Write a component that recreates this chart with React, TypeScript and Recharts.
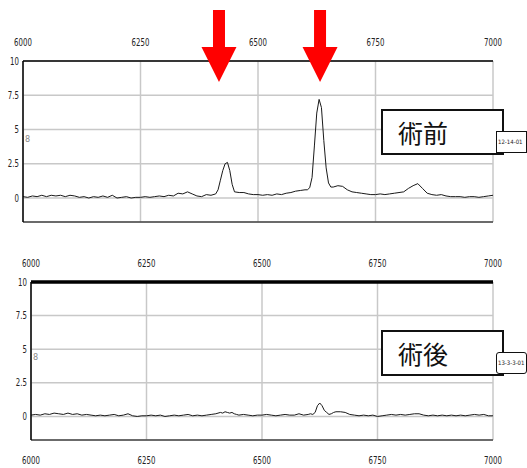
import { LineChart, Line, XAxis, YAxis, CartesianGrid, ReferenceDot } from "recharts";

// wavenumber positions (finer around the peaks)
const WAVE = [
  6000, 6010, 6020, 6030, 6040, 6050, 6060, 6070, 6080, 6090,
  6100, 6110, 6120, 6130, 6140, 6150, 6160, 6170, 6180, 6190,
  6200, 6210, 6220, 6230, 6240, 6250, 6260, 6270, 6280, 6290,
  6300, 6310, 6320, 6330, 6340, 6350, 6360, 6370, 6380, 6390,
  6400,
  6410, 6415, 6420, 6425, 6430, 6435, 6440, 6445, 6450,
  6460, 6470, 6480, 6490, 6500, 6510, 6520, 6530, 6540, 6550, 6560, 6570, 6580, 6590, 6600,
  6605, 6610, 6615, 6620, 6625, 6630, 6635, 6640, 6645, 6650, 6655, 6660,
  6670, 6680, 6690, 6700, 6710, 6720, 6730, 6740, 6750, 6760,
  6770, 6780, 6790, 6800, 6810, 6820, 6830, 6840, 6850, 6860,
  6870, 6880, 6890, 6900, 6910, 6920, 6930, 6940, 6950, 6960,
  6970, 6980, 6990, 7000,
];

// 術前
const PRE = [
  0.1, 0.05, 0.15, 0.1, 0.2, 0.1, 0.2, 0.15, 0.2, 0.1,
  0.2, 0.15, 0.05, 0.1, 0.0, 0.1, 0.05, 0.15, 0.05, 0.2,
  0.0, 0.05, 0.1, 0.0, 0.05, 0.05, 0.1, 0.05, 0.1, 0.15,
  0.1, 0.2, 0.15, 0.35, 0.3, 0.45, 0.3, 0.15, 0.1, 0.25,
  0.2,
  0.3, 0.6, 1.3, 2.0, 2.5, 2.6, 2.0, 1.0, 0.45,
  0.4, 0.4, 0.3, 0.25, 0.25, 0.2, 0.25, 0.2, 0.3, 0.25, 0.35, 0.4, 0.5, 0.55, 0.6,
  0.6, 0.75, 1.5, 3.8, 6.2, 7.2, 6.6, 4.2, 2.2, 1.1, 0.8, 0.8,
  0.9, 0.85, 0.6, 0.45, 0.4, 0.35, 0.3, 0.25, 0.25, 0.3,
  0.25, 0.3, 0.35, 0.4, 0.45, 0.7, 0.9, 1.05, 0.7, 0.35,
  0.25, 0.2, 0.25, 0.15, 0.1, 0.1, 0.1, 0.05, 0.1, 0.1,
  0.05, 0.1, 0.15, 0.2,
];

// 術後
const POST = [
  0.1, 0.15, 0.1, 0.2, 0.15, 0.25, 0.2, 0.15, 0.25, 0.15,
  0.2, 0.1, 0.15, 0.1, 0.05, 0.1, 0.05, 0.1, 0.15, 0.05,
  0.1, 0.2, 0.05, 0.0, 0.05, 0.05, 0.1, 0.05, 0.1, 0.0,
  0.05, 0.1, 0.05, 0.1, 0.15, 0.05, 0.1, 0.05, 0.1, 0.15,
  0.2,
  0.3, 0.25, 0.35, 0.3, 0.25, 0.3, 0.2, 0.15, 0.1,
  0.15, 0.1, 0.05, 0.1, 0.1, 0.15, 0.1, 0.05, 0.1, 0.15, 0.1, 0.1, 0.2, 0.1, 0.15,
  0.2, 0.15, 0.3, 0.8, 1.0, 0.8, 0.45, 0.3, 0.15, 0.2, 0.3, 0.35,
  0.35, 0.3, 0.15, 0.1, 0.05, 0.1, 0.05, 0.1, 0.0, 0.05,
  0.1, 0.15, 0.1, 0.15, 0.1, 0.15, 0.2, 0.2, 0.1, 0.05,
  0.1, 0.05, 0.1, 0.05, 0.1, 0.05, 0.1, 0.05, 0.1, 0.15,
  0.1, 0.15, 0.05, 0.05,
];

const X_TICKS = [6000, 6250, 6500, 6750, 7000];
const Y_TICKS = [0, 2.5, 5, 7.5, 10];
const Y_DOMAIN = [-1.75, 10];
const ARROW_AT = [6417, 6632];

const data = WAVE.map((w, i) => ({ w, pre: PRE[i], post: POST[i] }));

// narrow-looking tick labels
const mkTick = (dy: number) => (p: any) => (
  <g transform={`translate(${p.x},${p.y})`}>
    <text
      transform="scale(0.7,1)"
      textAnchor={p.textAnchor}
      dy={dy}
      fill="#222"
      fontSize={10}
      fontFamily="'DejaVu Sans', sans-serif"
    >
      {p.payload.value}
    </text>
  </g>
);

const Arrow = (p: any) => {
  const { cx, cy } = p;
  const pts = [
    [cx - 6, cy - 51], [cx + 6, cy - 51], [cx + 6, cy - 14], [cx + 17.5, cy - 14],
    [cx, cy + 21], [cx - 17.5, cy - 14], [cx - 6, cy - 14],
  ].map(q => q.join(",")).join(" ");
  return <polygon points={pts} fill="#ff0000" />;
};

const boxStyle: any = {
  position: "absolute",
  left: 381,
  width: 104,
  height: 42,
  border: "2px solid #111",
  background: "#fff",
  fontFamily: "'Noto Sans CJK JP', sans-serif",
  fontSize: 25,
  lineHeight: "42px",
  paddingLeft: 15,
  boxSizing: "content-box",
  color: "#111",
};

const tagStyle: any = {
  position: "absolute",
  left: 496,
  width: 28,
  height: 20,
  border: "1px solid #111",
  background: "#fff",
  fontFamily: "'DejaVu Sans Condensed', 'DejaVu Sans', sans-serif",
  fontSize: 6,
  lineHeight: "20px",
  paddingLeft: 1,
  color: "#222",
  whiteSpace: "nowrap",
  overflow: "hidden",
};

function Panel({ dataKey, top, height, margin, yWidth, topLine, bottomTicks, arrows }: any) {
  return (
    <div style={{ position: "absolute", left: 0, top }}>
      <LineChart width={527} height={height} data={data} margin={margin}>
        <CartesianGrid xAxisId="top" stroke="#c8c8c8" strokeWidth={1.5} />
        <XAxis
          xAxisId="top"
          orientation="top"
          dataKey="w"
          type="number"
          domain={[6000, 7000]}
          ticks={X_TICKS}
          height={30}
          tickLine={false}
          tickSize={0}
          tickMargin={15}
          tick={mkTick(0)}
          axisLine={{ stroke: "#000", strokeWidth: topLine }}
        />
        <XAxis
          xAxisId="bot"
          orientation="bottom"
          dataKey="w"
          type="number"
          domain={[6000, 7000]}
          ticks={X_TICKS}
          height={bottomTicks ? 28 : 1}
          tickLine={false}
          tickSize={0}
          tickMargin={17}
          tick={bottomTicks ? mkTick(7) : false}
          axisLine={{ stroke: "#000", strokeWidth: 1.2 }}
        />
        <YAxis
          domain={Y_DOMAIN}
          ticks={Y_TICKS}
          width={yWidth}
          tickLine={false}
          tickSize={0}
          tickMargin={4}
          tick={mkTick(3.5)}
          allowDataOverflow
          axisLine={{ stroke: "#000", strokeWidth: 1.5 }}
        />
        <Line
          xAxisId="top"
          dataKey={dataKey}
          type="linear"
          stroke="#1a1a1a"
          strokeWidth={1}
          dot={false}
          isAnimationActive={false}
        />
        {arrows &&
          ARROW_AT.map(a => (
            <ReferenceDot key={a} xAxisId="top" x={a} y={10} ifOverflow="visible" shape={Arrow} />
          ))}
      </LineChart>
    </div>
  );
}

export default function App() {
  return (
    <div style={{ position: "absolute", left: 0, top: 0, width: 527, height: 468, background: "#fff", overflow: "hidden" }}>
      <Panel
        dataKey="pre"
        top={0}
        height={226}
        margin={{ top: 31, right: 34, bottom: 3, left: 0 }}
        yWidth={23}
        topLine={1.5}
        bottomTicks={false}
        arrows
      />
      <Panel
        dataKey="post"
        top={240}
        height={228}
        margin={{ top: 12, right: 34, bottom: 0, left: 0 }}
        yWidth={31}
        topLine={3.5}
        bottomTicks
        arrows={false}
      />
      <div style={{ ...boxStyle, top: 109 }}>術前</div>
      <div style={{ ...boxStyle, top: 330 }}>術後</div>
      <div style={{ ...tagStyle, top: 131 }}>12-14-01</div>
      <div style={{ ...tagStyle, top: 352, borderRadius: 3 }}>13-3-3-01</div>
      <div style={{ position: "absolute", left: 25, top: 134, fontSize: 9, color: "#888", fontFamily: "'DejaVu Sans Condensed', sans-serif" }}>8</div>
      <div style={{ position: "absolute", left: 33, top: 352, fontSize: 9, color: "#888", fontFamily: "'DejaVu Sans Condensed', sans-serif" }}>8</div>
    </div>
  );
}
